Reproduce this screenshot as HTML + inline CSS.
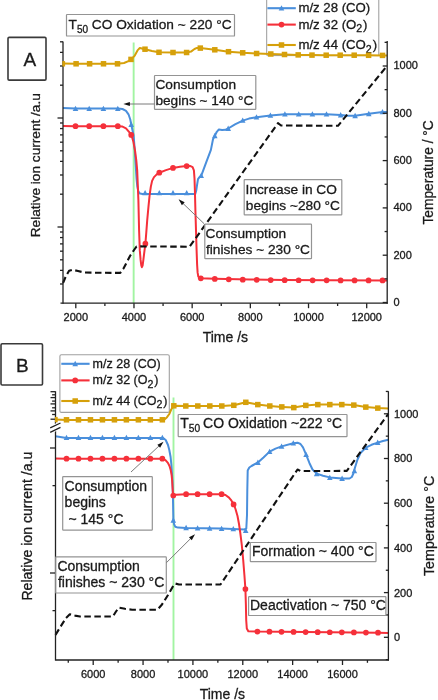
<!DOCTYPE html>
<html><head><meta charset="utf-8"><title>CO oxidation chart</title>
<style>html,body{margin:0;padding:0;background:#fff;width:438px;height:700px;overflow:hidden}svg{display:block;filter:blur(0.4px)}text{font-family:"Liberation Sans",sans-serif}</style>
</head><body>
<svg width="438" height="700" viewBox="0 0 438 700" font-family='Liberation Sans, sans-serif'>
<rect width="438" height="700" fill="#fff"/>
<line x1="133.65" y1="42.5" x2="133.65" y2="303.2" stroke="#a2f4a2" stroke-width="1.9"/>
<rect x="266.7" y="-3" width="112.1" height="58.6" fill="#fff" stroke="#999" stroke-width="1.0" rx="0.6"/>
<line x1="267.4" y1="8.2" x2="295.8" y2="8.2" stroke="#4a8fdc" stroke-width="2.1"/>
<path d="M281.5,5.26 L278.7,10.58 L284.3,10.58 Z" fill="#4a8fdc"/>
<text x="298.4" y="12.3" font-size="13.2" text-anchor="start" fill="#1a1a1a" stroke="#1a1a1a" stroke-width="0.3">m/z 28 (CO)</text>
<line x1="267.4" y1="24.6" x2="295.8" y2="24.6" stroke="#f5303a" stroke-width="2.1"/>
<circle cx="281.5" cy="24.6" r="2.85" fill="#f5303a"/>
<text x="298.4" y="28.7" font-size="13.2" text-anchor="start" fill="#1a1a1a" stroke="#1a1a1a" stroke-width="0.3">m/z 32 (O<tspan font-size="10.6" dy="3.6">2</tspan><tspan dy="-3.6" dx="0.9">)</tspan></text>
<line x1="267.4" y1="45" x2="295.8" y2="45" stroke="#d6a00a" stroke-width="2.1"/>
<rect x="278.75" y="42.25" width="5.5" height="5.5" fill="#d6a00a"/>
<text x="298.4" y="49.1" font-size="13.2" text-anchor="start" fill="#1a1a1a" stroke="#1a1a1a" stroke-width="0.3">m/z 44 (CO<tspan font-size="10.6" dy="3.6">2</tspan><tspan dy="-3.6" dx="0.9">)</tspan></text>
<line x1="173.5" y1="397.5" x2="173.5" y2="660" stroke="#a2f4a2" stroke-width="1.9"/>
<rect x="59.9" y="354.8" width="109.4" height="57.6" fill="#fff" stroke="#a0a0a0" stroke-width="1.1" rx="1.5"/>
<line x1="61.3" y1="363.8" x2="89.6" y2="363.8" stroke="#4a8fdc" stroke-width="2.1"/>
<path d="M75.2,360.86 L72.4,366.18 L78,366.18 Z" fill="#4a8fdc"/>
<text x="92.6" y="367.6" font-size="12.5" text-anchor="start" fill="#1a1a1a" stroke="#1a1a1a" stroke-width="0.3">m/z 28 (CO)</text>
<line x1="61.3" y1="380.4" x2="89.6" y2="380.4" stroke="#f5303a" stroke-width="2.1"/>
<circle cx="75.2" cy="380.4" r="2.85" fill="#f5303a"/>
<text x="92.6" y="384.2" font-size="12.5" text-anchor="start" fill="#1a1a1a" stroke="#1a1a1a" stroke-width="0.3">m/z 32 (O<tspan font-size="10.6" dy="3.6">2</tspan><tspan dy="-3.6" dx="0.9">)</tspan></text>
<line x1="61.3" y1="401" x2="89.6" y2="401" stroke="#d6a00a" stroke-width="2.1"/>
<rect x="72.45" y="398.25" width="5.5" height="5.5" fill="#d6a00a"/>
<text x="92.6" y="404.8" font-size="12.5" text-anchor="start" fill="#1a1a1a" stroke="#1a1a1a" stroke-width="0.3">m/z 44 (CO<tspan font-size="10.6" dy="3.6">2</tspan><tspan dy="-3.6" dx="0.9">)</tspan></text>
<path d="M63,107.9 L75.5,108.6 L117.8,108.6 L122.5,109 L126,110.8 L128.5,114.3 L130.2,119.3 L131.2,124.3 L132.5,130.3 L133.6,135.3 L134.8,150.3 L135.7,165.3 L136.5,178.3 L137.3,186.3 L138.3,191.3 L140,193.6 L142.5,194 L195.2,194.1 L196.2,190.8 L197,185.3 L198,179.1 L199.5,177.1 L201.2,175.9 L206,162.8 L210.9,149.9 L213,139.3 L214.8,135.7 L216.8,131.8 L218.9,129.4 L222.1,129.9 L225.5,129.8 L228.2,128.5 L235,124.3 L242.7,120.6 L249,118.6 L256.5,117.2 L270.4,115.4 L284.9,114.3 L298.7,114.2 L326.5,114.2 L340.7,115 L348,115.7 L355.1,115.7 L362,114.7 L368.8,113.8 L382.5,112.1 L387,111.9" fill="none" stroke="#4a8fdc" stroke-width="2.0" stroke-linejoin="round" stroke-linecap="butt"/>
<path d="M75.5,105.66 L72.7,110.98 L78.3,110.98 Z" fill="#4a8fdc"/>
<path d="M89.2,105.66 L86.4,110.98 L92,110.98 Z" fill="#4a8fdc"/>
<path d="M103.4,105.66 L100.6,110.98 L106.2,110.98 Z" fill="#4a8fdc"/>
<path d="M117.8,105.66 L115,110.98 L120.6,110.98 Z" fill="#4a8fdc"/>
<path d="M131.2,121.56 L128.4,126.88 L134,126.88 Z" fill="#4a8fdc"/>
<path d="M145.1,189.96 L142.3,195.28 L147.9,195.28 Z" fill="#4a8fdc"/>
<path d="M159.3,189.96 L156.5,195.28 L162.1,195.28 Z" fill="#4a8fdc"/>
<path d="M173,189.96 L170.2,195.28 L175.8,195.28 Z" fill="#4a8fdc"/>
<path d="M186.7,189.96 L183.9,195.28 L189.5,195.28 Z" fill="#4a8fdc"/>
<path d="M201.2,172.76 L198.4,178.08 L204,178.08 Z" fill="#4a8fdc"/>
<path d="M214.8,132.86 L212,138.18 L217.6,138.18 Z" fill="#4a8fdc"/>
<path d="M228.2,125.56 L225.4,130.88 L231,130.88 Z" fill="#4a8fdc"/>
<path d="M242.7,117.46 L239.9,122.78 L245.5,122.78 Z" fill="#4a8fdc"/>
<path d="M256.5,114.26 L253.7,119.58 L259.3,119.58 Z" fill="#4a8fdc"/>
<path d="M270.4,112.46 L267.6,117.78 L273.2,117.78 Z" fill="#4a8fdc"/>
<path d="M284.9,111.26 L282.1,116.58 L287.7,116.58 Z" fill="#4a8fdc"/>
<path d="M298.7,111.26 L295.9,116.58 L301.5,116.58 Z" fill="#4a8fdc"/>
<path d="M312.4,111.26 L309.6,116.58 L315.2,116.58 Z" fill="#4a8fdc"/>
<path d="M326.5,111.26 L323.7,116.58 L329.3,116.58 Z" fill="#4a8fdc"/>
<path d="M340.7,112.06 L337.9,117.38 L343.5,117.38 Z" fill="#4a8fdc"/>
<path d="M355.1,112.86 L352.3,118.18 L357.9,118.18 Z" fill="#4a8fdc"/>
<path d="M368.8,110.86 L366,116.18 L371.6,116.18 Z" fill="#4a8fdc"/>
<path d="M382.5,108.96 L379.7,114.28 L385.3,114.28 Z" fill="#4a8fdc"/>
<path d="M55.5,436.3 L66.5,437.9 L78.48,437.9 L90.46,437.9 L102.44,437.9 L114.42,437.9 L126.4,437.9 L138.38,437.9 L150.36,437.9 L162.34,437.9 L163.5,438.3 L165.7,440 L168,445 L169.3,450 L170.6,457 L171.4,465 L172.4,480 L172.9,495 L173.2,510 L173.4,519 L174,524 L175.3,526.8 L178,527.6 L186.1,528 L221.5,528.6 L233.1,529 L244.5,529.4 L246.3,528.5 L247,515 L247.3,490 L247.7,470.5 L249.3,467.5 L251.5,466 L257.9,462.5 L263.5,457.5 L269.6,451.6 L275.5,448.6 L281.6,446.4 L293.3,443.3 L297.5,442.7 L300.5,444 L303,447.4 L306.1,454.7 L309.5,463.2 L312.5,469.5 L316.7,473.6 L323,475.8 L329.8,477.4 L342.1,478.4 L349.5,478.5 L351.8,477 L353.4,473.5 L355,467.5 L357.5,459.5 L360.5,453 L365.7,447.7 L371.5,444.8 L377.7,442.6 L383,441 L388.4,439.8" fill="none" stroke="#4a8fdc" stroke-width="2.0" stroke-linejoin="round" stroke-linecap="butt"/>
<path d="M66.5,434.76 L63.7,440.08 L69.3,440.08 Z" fill="#4a8fdc"/>
<path d="M78.48,434.76 L75.68,440.08 L81.28,440.08 Z" fill="#4a8fdc"/>
<path d="M90.46,434.76 L87.66,440.08 L93.26,440.08 Z" fill="#4a8fdc"/>
<path d="M102.44,434.76 L99.64,440.08 L105.24,440.08 Z" fill="#4a8fdc"/>
<path d="M114.42,434.76 L111.62,440.08 L117.22,440.08 Z" fill="#4a8fdc"/>
<path d="M126.4,434.76 L123.6,440.08 L129.2,440.08 Z" fill="#4a8fdc"/>
<path d="M138.38,434.76 L135.58,440.08 L141.18,440.08 Z" fill="#4a8fdc"/>
<path d="M150.36,434.76 L147.56,440.08 L153.16,440.08 Z" fill="#4a8fdc"/>
<path d="M162.34,434.76 L159.54,440.08 L165.14,440.08 Z" fill="#4a8fdc"/>
<path d="M173.3,517.36 L170.5,522.68 L176.1,522.68 Z" fill="#4a8fdc"/>
<path d="M186.1,524.86 L183.3,530.18 L188.9,530.18 Z" fill="#4a8fdc"/>
<path d="M197.6,525.16 L194.8,530.48 L200.4,530.48 Z" fill="#4a8fdc"/>
<path d="M209.6,525.36 L206.8,530.68 L212.4,530.68 Z" fill="#4a8fdc"/>
<path d="M221.6,525.66 L218.8,530.98 L224.4,530.98 Z" fill="#4a8fdc"/>
<path d="M233.3,525.96 L230.5,531.28 L236.1,531.28 Z" fill="#4a8fdc"/>
<path d="M245.7,527.66 L242.9,532.98 L248.5,532.98 Z" fill="#4a8fdc"/>
<path d="M257.9,459.56 L255.1,464.88 L260.7,464.88 Z" fill="#4a8fdc"/>
<path d="M269.6,448.66 L266.8,453.98 L272.4,453.98 Z" fill="#4a8fdc"/>
<path d="M281.6,443.46 L278.8,448.78 L284.4,448.78 Z" fill="#4a8fdc"/>
<path d="M293.3,440.26 L290.5,445.58 L296.1,445.58 Z" fill="#4a8fdc"/>
<path d="M306.1,451.76 L303.3,457.08 L308.9,457.08 Z" fill="#4a8fdc"/>
<path d="M316.7,470.86 L313.9,476.18 L319.5,476.18 Z" fill="#4a8fdc"/>
<path d="M329.8,474.76 L327,480.08 L332.6,480.08 Z" fill="#4a8fdc"/>
<path d="M342.1,475.56 L339.3,480.88 L344.9,480.88 Z" fill="#4a8fdc"/>
<path d="M354.4,467.96 L351.6,473.28 L357.2,473.28 Z" fill="#4a8fdc"/>
<path d="M365.7,444.76 L362.9,450.08 L368.5,450.08 Z" fill="#4a8fdc"/>
<path d="M377.7,439.56 L374.9,444.88 L380.5,444.88 Z" fill="#4a8fdc"/>
<path d="M63,125.9 L75.5,126.2 L117.8,126.2 L122.5,126.6 L126,128.4 L128.6,131.4 L131.4,134.7 L133.3,141.4 L135,150.4 L136.3,160.4 L137.2,170.4 L137.8,185.4 L138.4,200.4 L139.1,230.4 L139.8,250.4 L140.6,259.9 L141.3,265.4 L141.9,267.2 L142.6,265.7 L143.3,260.4 L144.4,251.4 L145.4,243.7 L146.3,232.4 L147.2,220.4 L148.4,207.4 L149.6,195.4 L150.8,186.9 L152.1,180.9 L154,177.1 L156.5,174.6 L159.3,172.7 L166,170.1 L173,167.9 L180,166.7 L186.7,166.1 L190.5,166.1 L192.6,167.2 L193.9,170.4 L194.5,178.4 L194.9,190.4 L195.4,210.4 L196,230.4 L196.6,250.4 L197.1,264.4 L197.6,272.4 L198.3,276.6 L199.6,278 L200.8,278.3 L214.5,278.8 L250,279.5 L284.5,279.9 L330,280.2 L387,280.5" fill="none" stroke="#f5303a" stroke-width="2.0" stroke-linejoin="round" stroke-linecap="butt"/>
<circle cx="75.5" cy="126.2" r="2.85" fill="#f5303a"/>
<circle cx="89.2" cy="126.2" r="2.85" fill="#f5303a"/>
<circle cx="103.4" cy="126.2" r="2.85" fill="#f5303a"/>
<circle cx="117.8" cy="126.2" r="2.85" fill="#f5303a"/>
<circle cx="131.2" cy="134.9" r="2.85" fill="#f5303a"/>
<circle cx="145.4" cy="243.7" r="2.85" fill="#f5303a"/>
<circle cx="159.3" cy="172.7" r="2.85" fill="#f5303a"/>
<circle cx="173" cy="167.9" r="2.85" fill="#f5303a"/>
<circle cx="186.7" cy="166.1" r="2.85" fill="#f5303a"/>
<circle cx="200.8" cy="278.3" r="2.85" fill="#f5303a"/>
<circle cx="214.78" cy="278.89" r="2.85" fill="#f5303a"/>
<circle cx="228.76" cy="279.32" r="2.85" fill="#f5303a"/>
<circle cx="242.74" cy="279.63" r="2.85" fill="#f5303a"/>
<circle cx="256.72" cy="279.87" r="2.85" fill="#f5303a"/>
<circle cx="270.7" cy="280.03" r="2.85" fill="#f5303a"/>
<circle cx="284.68" cy="280.16" r="2.85" fill="#f5303a"/>
<circle cx="298.66" cy="280.25" r="2.85" fill="#f5303a"/>
<circle cx="312.64" cy="280.32" r="2.85" fill="#f5303a"/>
<circle cx="326.62" cy="280.37" r="2.85" fill="#f5303a"/>
<circle cx="340.6" cy="280.4" r="2.85" fill="#f5303a"/>
<circle cx="354.58" cy="280.43" r="2.85" fill="#f5303a"/>
<circle cx="368.56" cy="280.45" r="2.85" fill="#f5303a"/>
<circle cx="382.54" cy="280.46" r="2.85" fill="#f5303a"/>
<path d="M55.5,458.4 L66.5,458.7 L78.48,458.7 L90.46,458.7 L102.44,458.7 L114.42,458.7 L126.4,458.7 L138.38,458.7 L150.36,458.7 L162.34,458.7 L165.5,460.2 L167.9,462.9 L169.5,466 L170.7,470 L171.6,475 L172.1,480 L172.6,488 L173,494.5 L173.6,495.4 L176,494.7 L186,494.2 L221.5,494.2 L225.5,495 L229,497.6 L231.5,500.7 L233.6,504.2 L235.5,509 L237.5,516 L239,524 L240.3,533 L241.8,545 L243.2,560 L244.4,575 L245.4,589 L245.9,605 L246.2,620 L246.8,628.5 L248.3,631.3 L257.4,631.6 L378,632.7 L388.4,632.9" fill="none" stroke="#f5303a" stroke-width="2.0" stroke-linejoin="round" stroke-linecap="butt"/>
<circle cx="66.5" cy="458.7" r="2.85" fill="#f5303a"/>
<circle cx="78.48" cy="458.7" r="2.85" fill="#f5303a"/>
<circle cx="90.46" cy="458.7" r="2.85" fill="#f5303a"/>
<circle cx="102.44" cy="458.7" r="2.85" fill="#f5303a"/>
<circle cx="114.42" cy="458.7" r="2.85" fill="#f5303a"/>
<circle cx="126.4" cy="458.7" r="2.85" fill="#f5303a"/>
<circle cx="138.38" cy="458.7" r="2.85" fill="#f5303a"/>
<circle cx="150.36" cy="458.7" r="2.85" fill="#f5303a"/>
<circle cx="162.34" cy="458.7" r="2.85" fill="#f5303a"/>
<circle cx="173.3" cy="495.5" r="2.85" fill="#f5303a"/>
<circle cx="186.1" cy="494.2" r="2.85" fill="#f5303a"/>
<circle cx="197.6" cy="494.2" r="2.85" fill="#f5303a"/>
<circle cx="209.6" cy="494.2" r="2.85" fill="#f5303a"/>
<circle cx="221.6" cy="494.2" r="2.85" fill="#f5303a"/>
<circle cx="233.6" cy="504.4" r="2.85" fill="#f5303a"/>
<circle cx="245.4" cy="589" r="2.85" fill="#f5303a"/>
<circle cx="257.4" cy="631.6" r="2.85" fill="#f5303a"/>
<circle cx="269.46" cy="631.71" r="2.85" fill="#f5303a"/>
<circle cx="281.52" cy="631.82" r="2.85" fill="#f5303a"/>
<circle cx="293.58" cy="631.93" r="2.85" fill="#f5303a"/>
<circle cx="305.64" cy="632.03" r="2.85" fill="#f5303a"/>
<circle cx="317.7" cy="632.14" r="2.85" fill="#f5303a"/>
<circle cx="329.76" cy="632.25" r="2.85" fill="#f5303a"/>
<circle cx="341.82" cy="632.36" r="2.85" fill="#f5303a"/>
<circle cx="353.88" cy="632.47" r="2.85" fill="#f5303a"/>
<circle cx="365.94" cy="632.58" r="2.85" fill="#f5303a"/>
<circle cx="378" cy="632.69" r="2.85" fill="#f5303a"/>
<path d="M63,63.4 L76.1,63.8 L117.5,63.8 L124,63 L129,60.9 L131,59.6 L134.5,55.9 L137.5,50.4 L139.8,48 L145,49.2 L152,51 L159,52.3 L173,52.5 L186.6,52.5 L191,51.6 L194.5,49 L197,47.9 L200.3,48 L214.8,49.8 L228.5,51.7 L242.7,52.8 L256.6,53.5 L270.8,54 L284.5,54.5 L298,54.9 L311.7,55.1 L326.5,55.2 L340.2,55.2 L354,55.2 L368.8,55.3 L382.5,55.4 L387,55.4" fill="none" stroke="#d6a00a" stroke-width="2.0" stroke-linejoin="round" stroke-linecap="butt"/>
<rect x="73.35" y="61.05" width="5.5" height="5.5" fill="#d6a00a"/>
<rect x="86.85" y="61.05" width="5.5" height="5.5" fill="#d6a00a"/>
<rect x="100.75" y="61.05" width="5.5" height="5.5" fill="#d6a00a"/>
<rect x="114.75" y="61.05" width="5.5" height="5.5" fill="#d6a00a"/>
<rect x="128.25" y="56.65" width="5.5" height="5.5" fill="#d6a00a"/>
<rect x="142.25" y="46.45" width="5.5" height="5.5" fill="#d6a00a"/>
<rect x="156.25" y="49.55" width="5.5" height="5.5" fill="#d6a00a"/>
<rect x="170.25" y="49.75" width="5.5" height="5.5" fill="#d6a00a"/>
<rect x="183.85" y="49.75" width="5.5" height="5.5" fill="#d6a00a"/>
<rect x="197.55" y="45.35" width="5.5" height="5.5" fill="#d6a00a"/>
<rect x="212.05" y="47.05" width="5.5" height="5.5" fill="#d6a00a"/>
<rect x="225.75" y="48.95" width="5.5" height="5.5" fill="#d6a00a"/>
<rect x="239.95" y="50.05" width="5.5" height="5.5" fill="#d6a00a"/>
<rect x="253.85" y="50.75" width="5.5" height="5.5" fill="#d6a00a"/>
<rect x="268.05" y="51.25" width="5.5" height="5.5" fill="#d6a00a"/>
<rect x="281.75" y="51.75" width="5.5" height="5.5" fill="#d6a00a"/>
<rect x="295.45" y="52.15" width="5.5" height="5.5" fill="#d6a00a"/>
<rect x="309.25" y="52.35" width="5.5" height="5.5" fill="#d6a00a"/>
<rect x="323.45" y="52.45" width="5.5" height="5.5" fill="#d6a00a"/>
<rect x="337.45" y="52.45" width="5.5" height="5.5" fill="#d6a00a"/>
<rect x="351.45" y="52.45" width="5.5" height="5.5" fill="#d6a00a"/>
<rect x="365.85" y="52.55" width="5.5" height="5.5" fill="#d6a00a"/>
<rect x="379.75" y="52.65" width="5.5" height="5.5" fill="#d6a00a"/>
<path d="M55.5,419.6 L66.5,419.9 L78.48,419.9 L90.46,419.9 L102.44,419.9 L114.42,419.9 L126.4,419.9 L138.38,419.9 L150.36,419.9 L162.34,419.9 L164.5,419.4 L167,417.2 L169.3,414 L171.2,409.5 L173.4,406.3 L174.5,405.8 L185.8,406 L197.8,406 L209.8,406 L221.8,406 L233.8,405.3 L245.8,402.3 L257.8,404.6 L269.8,406 L281.8,406.9 L293.8,407.6 L305.8,405.4 L317.8,404.6 L329.8,404.6 L341.8,404.6 L353.8,405.1 L365.8,407.1 L377.8,408.1 L388.4,408.5" fill="none" stroke="#d6a00a" stroke-width="2.0" stroke-linejoin="round" stroke-linecap="butt"/>
<rect x="63.75" y="417.05" width="5.5" height="5.5" fill="#d6a00a"/>
<rect x="75.73" y="417.05" width="5.5" height="5.5" fill="#d6a00a"/>
<rect x="87.71" y="417.05" width="5.5" height="5.5" fill="#d6a00a"/>
<rect x="99.69" y="417.05" width="5.5" height="5.5" fill="#d6a00a"/>
<rect x="111.67" y="417.05" width="5.5" height="5.5" fill="#d6a00a"/>
<rect x="123.65" y="417.05" width="5.5" height="5.5" fill="#d6a00a"/>
<rect x="135.63" y="417.05" width="5.5" height="5.5" fill="#d6a00a"/>
<rect x="147.61" y="417.05" width="5.5" height="5.5" fill="#d6a00a"/>
<rect x="159.59" y="417.05" width="5.5" height="5.5" fill="#d6a00a"/>
<rect x="171.05" y="403.05" width="5.5" height="5.5" fill="#d6a00a"/>
<rect x="183.05" y="403.25" width="5.5" height="5.5" fill="#d6a00a"/>
<rect x="195.05" y="403.25" width="5.5" height="5.5" fill="#d6a00a"/>
<rect x="207.05" y="403.25" width="5.5" height="5.5" fill="#d6a00a"/>
<rect x="219.05" y="403.25" width="5.5" height="5.5" fill="#d6a00a"/>
<rect x="231.05" y="402.55" width="5.5" height="5.5" fill="#d6a00a"/>
<rect x="243.05" y="399.55" width="5.5" height="5.5" fill="#d6a00a"/>
<rect x="255.05" y="401.85" width="5.5" height="5.5" fill="#d6a00a"/>
<rect x="267.05" y="403.25" width="5.5" height="5.5" fill="#d6a00a"/>
<rect x="279.05" y="404.15" width="5.5" height="5.5" fill="#d6a00a"/>
<rect x="291.05" y="404.85" width="5.5" height="5.5" fill="#d6a00a"/>
<rect x="303.05" y="402.65" width="5.5" height="5.5" fill="#d6a00a"/>
<rect x="315.05" y="401.85" width="5.5" height="5.5" fill="#d6a00a"/>
<rect x="327.05" y="401.85" width="5.5" height="5.5" fill="#d6a00a"/>
<rect x="339.05" y="401.85" width="5.5" height="5.5" fill="#d6a00a"/>
<rect x="351.05" y="402.35" width="5.5" height="5.5" fill="#d6a00a"/>
<rect x="363.05" y="404.35" width="5.5" height="5.5" fill="#d6a00a"/>
<rect x="375.05" y="405.35" width="5.5" height="5.5" fill="#d6a00a"/>
<path d="M63,283 L66,276 L69.1,270.8 L72.8,269.8 L78,271 L83.7,272.4 L100,272.8 L120.3,272.9 L123.5,268.5 L130,256 L134,250 L136.5,246.6 L140,246.4 L189.6,246.7 L278,123.2 L281,125.5 L338,125.8 L387,66" fill="none" stroke="#111" stroke-width="2.1" stroke-linejoin="round" stroke-linecap="butt" stroke-dasharray="6.5 3.5"/>
<path d="M55.5,634.9 L60,627.5 L66,618 L69.8,614.3 L75,615.6 L80,616.5 L112.9,616.5 L116,611.5 L118.8,607.6 L125,608.8 L132.2,609.7 L157.4,609.7 L162,604.5 L168,595 L173.5,585.5 L175.5,583.6 L179,584.5 L220.5,584.5 L297.5,469.5 L300.5,471 L346.8,470.9 L388.4,413.8" fill="none" stroke="#111" stroke-width="2.1" stroke-linejoin="round" stroke-linecap="butt" stroke-dasharray="6.5 3.5"/>
<line x1="63" y1="41.5" x2="63" y2="303.8" stroke="#222" stroke-width="1.3"/>
<line x1="60.5" y1="303.2" x2="387.8" y2="303.2" stroke="#222" stroke-width="1.3"/>
<line x1="387.2" y1="41" x2="387.2" y2="303.8" stroke="#222" stroke-width="1.3"/>
<line x1="60" y1="41.81" x2="63" y2="41.81" stroke="#222" stroke-width="1.3"/>
<line x1="60" y1="52.38" x2="63" y2="52.38" stroke="#222" stroke-width="1.3"/>
<line x1="60" y1="65.99" x2="63" y2="65.99" stroke="#222" stroke-width="1.3"/>
<line x1="60" y1="85.19" x2="63" y2="85.19" stroke="#222" stroke-width="1.3"/>
<line x1="60" y1="122.99" x2="63" y2="122.99" stroke="#222" stroke-width="1.3"/>
<line x1="60" y1="128.56" x2="63" y2="128.56" stroke="#222" stroke-width="1.3"/>
<line x1="60" y1="134.88" x2="63" y2="134.88" stroke="#222" stroke-width="1.3"/>
<line x1="60" y1="142.18" x2="63" y2="142.18" stroke="#222" stroke-width="1.3"/>
<line x1="60" y1="150.81" x2="63" y2="150.81" stroke="#222" stroke-width="1.3"/>
<line x1="60" y1="161.38" x2="63" y2="161.38" stroke="#222" stroke-width="1.3"/>
<line x1="60" y1="174.99" x2="63" y2="174.99" stroke="#222" stroke-width="1.3"/>
<line x1="60" y1="194.19" x2="63" y2="194.19" stroke="#222" stroke-width="1.3"/>
<line x1="60" y1="231.99" x2="63" y2="231.99" stroke="#222" stroke-width="1.3"/>
<line x1="60" y1="237.56" x2="63" y2="237.56" stroke="#222" stroke-width="1.3"/>
<line x1="60" y1="243.88" x2="63" y2="243.88" stroke="#222" stroke-width="1.3"/>
<line x1="60" y1="251.18" x2="63" y2="251.18" stroke="#222" stroke-width="1.3"/>
<line x1="60" y1="259.81" x2="63" y2="259.81" stroke="#222" stroke-width="1.3"/>
<line x1="60" y1="270.38" x2="63" y2="270.38" stroke="#222" stroke-width="1.3"/>
<line x1="60" y1="283.99" x2="63" y2="283.99" stroke="#222" stroke-width="1.3"/>
<line x1="57.5" y1="118" x2="63" y2="118" stroke="#222" stroke-width="1.3"/>
<line x1="57.5" y1="227" x2="63" y2="227" stroke="#222" stroke-width="1.3"/>
<line x1="75.8" y1="303.2" x2="75.8" y2="308.2" stroke="#222" stroke-width="1.3"/>
<line x1="104.89" y1="303.2" x2="104.89" y2="306" stroke="#222" stroke-width="1.3"/>
<line x1="133.98" y1="303.2" x2="133.98" y2="308.2" stroke="#222" stroke-width="1.3"/>
<line x1="163.07" y1="303.2" x2="163.07" y2="306" stroke="#222" stroke-width="1.3"/>
<line x1="192.16" y1="303.2" x2="192.16" y2="308.2" stroke="#222" stroke-width="1.3"/>
<line x1="221.25" y1="303.2" x2="221.25" y2="306" stroke="#222" stroke-width="1.3"/>
<line x1="250.34" y1="303.2" x2="250.34" y2="308.2" stroke="#222" stroke-width="1.3"/>
<line x1="279.43" y1="303.2" x2="279.43" y2="306" stroke="#222" stroke-width="1.3"/>
<line x1="308.52" y1="303.2" x2="308.52" y2="308.2" stroke="#222" stroke-width="1.3"/>
<line x1="337.61" y1="303.2" x2="337.61" y2="306" stroke="#222" stroke-width="1.3"/>
<line x1="366.7" y1="303.2" x2="366.7" y2="308.2" stroke="#222" stroke-width="1.3"/>
<text x="75.8" y="320.6" font-size="11" text-anchor="middle" fill="#1a1a1a" stroke="#1a1a1a" stroke-width="0.3">2000</text>
<text x="133.98" y="320.6" font-size="11" text-anchor="middle" fill="#1a1a1a" stroke="#1a1a1a" stroke-width="0.3">4000</text>
<text x="192.16" y="320.6" font-size="11" text-anchor="middle" fill="#1a1a1a" stroke="#1a1a1a" stroke-width="0.3">6000</text>
<text x="250.34" y="320.6" font-size="11" text-anchor="middle" fill="#1a1a1a" stroke="#1a1a1a" stroke-width="0.3">8000</text>
<text x="308.52" y="320.6" font-size="11" text-anchor="middle" fill="#1a1a1a" stroke="#1a1a1a" stroke-width="0.3">10000</text>
<text x="366.7" y="320.6" font-size="11" text-anchor="middle" fill="#1a1a1a" stroke="#1a1a1a" stroke-width="0.3">12000</text>
<line x1="382.7" y1="302.5" x2="387.2" y2="302.5" stroke="#222" stroke-width="1.3"/>
<line x1="384.6" y1="278.85" x2="387.2" y2="278.85" stroke="#222" stroke-width="1.3"/>
<line x1="382.7" y1="255.2" x2="387.2" y2="255.2" stroke="#222" stroke-width="1.3"/>
<line x1="384.6" y1="231.55" x2="387.2" y2="231.55" stroke="#222" stroke-width="1.3"/>
<line x1="382.7" y1="207.9" x2="387.2" y2="207.9" stroke="#222" stroke-width="1.3"/>
<line x1="384.6" y1="184.25" x2="387.2" y2="184.25" stroke="#222" stroke-width="1.3"/>
<line x1="382.7" y1="160.6" x2="387.2" y2="160.6" stroke="#222" stroke-width="1.3"/>
<line x1="384.6" y1="136.95" x2="387.2" y2="136.95" stroke="#222" stroke-width="1.3"/>
<line x1="382.7" y1="113.3" x2="387.2" y2="113.3" stroke="#222" stroke-width="1.3"/>
<line x1="384.6" y1="89.65" x2="387.2" y2="89.65" stroke="#222" stroke-width="1.3"/>
<line x1="382.7" y1="66" x2="387.2" y2="66" stroke="#222" stroke-width="1.3"/>
<line x1="384.6" y1="42.35" x2="387.2" y2="42.35" stroke="#222" stroke-width="1.3"/>
<text x="393.5" y="305.9" font-size="11" text-anchor="start" fill="#1a1a1a" stroke="#1a1a1a" stroke-width="0.3">0</text>
<text x="393.5" y="258.6" font-size="11" text-anchor="start" fill="#1a1a1a" stroke="#1a1a1a" stroke-width="0.3">200</text>
<text x="393.5" y="211.3" font-size="11" text-anchor="start" fill="#1a1a1a" stroke="#1a1a1a" stroke-width="0.3">400</text>
<text x="393.5" y="164" font-size="11" text-anchor="start" fill="#1a1a1a" stroke="#1a1a1a" stroke-width="0.3">600</text>
<text x="393.5" y="116.7" font-size="11" text-anchor="start" fill="#1a1a1a" stroke="#1a1a1a" stroke-width="0.3">800</text>
<text x="393.5" y="69.4" font-size="11" text-anchor="start" fill="#1a1a1a" stroke="#1a1a1a" stroke-width="0.3">1000</text>
<text x="0" y="0" font-size="14" text-anchor="middle" fill="#1a1a1a" stroke="#1a1a1a" stroke-width="0.3" transform="translate(225.4,341.6)">Time /s</text>
<text x="0" y="0" font-size="13.65" text-anchor="middle" fill="#1a1a1a" stroke="#1a1a1a" stroke-width="0.3" transform="translate(39.6,165.2) rotate(-90)">Relative ion current /a.u</text>
<text x="0" y="0" font-size="13.8" text-anchor="middle" fill="#1a1a1a" stroke="#1a1a1a" stroke-width="0.3" transform="translate(433.2,172.4) rotate(-90)">Temperature / &#176;C</text>
<rect x="8" y="37.4" width="38" height="42.7" fill="#fff" stroke="#3a3a3a" stroke-width="1.6" rx="1.2"/>
<text x="29.8" y="66.2" font-size="19" text-anchor="middle" fill="#1a1a1a" stroke="#1a1a1a" stroke-width="0.3">A</text>
<rect x="66.5" y="14.5" width="168" height="21.5" fill="#fff" stroke="#949494" stroke-width="1.2" rx="0.6"/>
<text x="68.5" y="29.4" font-size="13.7" text-anchor="start" fill="#1a1a1a" stroke="#1a1a1a" stroke-width="0.3">T<tspan font-size="10" dy="4.0">50</tspan><tspan dy="-4.0"> CO Oxidation ~ 220 &#176;C</tspan></text>
<rect x="154.5" y="75.5" width="101.3" height="33.9" fill="#fff" stroke="#949494" stroke-width="1.2" rx="0.6"/>
<text x="155.4" y="89.1" font-size="13.7" text-anchor="start" fill="#1a1a1a" stroke="#1a1a1a" stroke-width="0.3">Consumption</text>
<text x="155.4" y="104.6" font-size="13.7" text-anchor="start" fill="#1a1a1a" stroke="#1a1a1a" stroke-width="0.3">begins ~ 140 &#176;C</text>
<line x1="154.5" y1="104" x2="126.4" y2="104" stroke="#7a7a7a" stroke-width="1.0"/>
<path d="M123.4,104 L129.9,102 L129.9,106 Z" fill="#111"/>
<rect x="244.2" y="179.7" width="97.6" height="35.1" fill="#fff" stroke="#949494" stroke-width="1.2" rx="0.6"/>
<text x="245.6" y="193.9" font-size="13.7" text-anchor="start" fill="#1a1a1a" stroke="#1a1a1a" stroke-width="0.3">Increase in CO</text>
<text x="245.8" y="210.3" font-size="13.7" text-anchor="start" fill="#1a1a1a" stroke="#1a1a1a" stroke-width="0.3">begins ~280 &#176;C</text>
<rect x="204.8" y="224.2" width="106.7" height="34.4" fill="#fff" stroke="#949494" stroke-width="1.2" rx="0.6"/>
<text x="205.5" y="237.9" font-size="13.7" text-anchor="start" fill="#1a1a1a" stroke="#1a1a1a" stroke-width="0.3">Consumption</text>
<text x="206" y="254.1" font-size="13.7" text-anchor="start" fill="#1a1a1a" stroke="#1a1a1a" stroke-width="0.3">finishes ~ 230 &#176;C</text>
<line x1="204" y1="223.6" x2="180.76" y2="201.28" stroke="#7a7a7a" stroke-width="1.0"/>
<path d="M178.6,199.2 L184.67,202.26 L181.9,205.15 Z" fill="#111"/>
<line x1="55.5" y1="391.3" x2="55.5" y2="424.8" stroke="#222" stroke-width="1.3"/>
<line x1="55.5" y1="430.5" x2="55.5" y2="660.6" stroke="#222" stroke-width="1.3"/>
<line x1="55.5" y1="660" x2="389" y2="660" stroke="#222" stroke-width="1.3"/>
<line x1="388.4" y1="391.2" x2="388.4" y2="660.6" stroke="#222" stroke-width="1.3"/>
<path d="M49.5,428.2 L61,422.6 M49.5,432.6 L61,427.0" stroke="#fff" stroke-width="3.2"/>
<path d="M50.2,427.9 L60.5,423.0 M50.2,432.3 L60.5,427.4" stroke="#222" stroke-width="1.3"/>
<line x1="50.5" y1="391.7" x2="55.5" y2="391.7" stroke="#222" stroke-width="1.3"/>
<line x1="52.1" y1="394.8" x2="55.5" y2="394.8" stroke="#222" stroke-width="1.3"/>
<line x1="50.5" y1="397.6" x2="55.5" y2="397.6" stroke="#222" stroke-width="1.3"/>
<line x1="52.1" y1="401.1" x2="55.5" y2="401.1" stroke="#222" stroke-width="1.3"/>
<line x1="50.5" y1="403.9" x2="55.5" y2="403.9" stroke="#222" stroke-width="1.3"/>
<line x1="52.1" y1="407.8" x2="55.5" y2="407.8" stroke="#222" stroke-width="1.3"/>
<line x1="50.5" y1="410.9" x2="55.5" y2="410.9" stroke="#222" stroke-width="1.3"/>
<line x1="52.1" y1="414.5" x2="55.5" y2="414.5" stroke="#222" stroke-width="1.3"/>
<line x1="50.5" y1="419.2" x2="55.5" y2="419.2" stroke="#222" stroke-width="1.3"/>
<line x1="50" y1="448" x2="55.5" y2="448" stroke="#222" stroke-width="1.3"/>
<line x1="50" y1="573" x2="55.5" y2="573" stroke="#222" stroke-width="1.3"/>
<line x1="52.5" y1="485.63" x2="55.5" y2="485.63" stroke="#222" stroke-width="1.3"/>
<line x1="52.5" y1="610.63" x2="55.5" y2="610.63" stroke="#222" stroke-width="1.3"/>
<line x1="68.27" y1="660" x2="68.27" y2="662.8" stroke="#222" stroke-width="1.3"/>
<line x1="93.2" y1="660" x2="93.2" y2="665" stroke="#222" stroke-width="1.3"/>
<line x1="118.13" y1="660" x2="118.13" y2="662.8" stroke="#222" stroke-width="1.3"/>
<line x1="143.06" y1="660" x2="143.06" y2="665" stroke="#222" stroke-width="1.3"/>
<line x1="167.99" y1="660" x2="167.99" y2="662.8" stroke="#222" stroke-width="1.3"/>
<line x1="192.92" y1="660" x2="192.92" y2="665" stroke="#222" stroke-width="1.3"/>
<line x1="217.85" y1="660" x2="217.85" y2="662.8" stroke="#222" stroke-width="1.3"/>
<line x1="242.78" y1="660" x2="242.78" y2="665" stroke="#222" stroke-width="1.3"/>
<line x1="267.71" y1="660" x2="267.71" y2="662.8" stroke="#222" stroke-width="1.3"/>
<line x1="292.64" y1="660" x2="292.64" y2="665" stroke="#222" stroke-width="1.3"/>
<line x1="317.57" y1="660" x2="317.57" y2="662.8" stroke="#222" stroke-width="1.3"/>
<line x1="342.5" y1="660" x2="342.5" y2="665" stroke="#222" stroke-width="1.3"/>
<line x1="367.43" y1="660" x2="367.43" y2="662.8" stroke="#222" stroke-width="1.3"/>
<text x="93.2" y="677.8" font-size="11" text-anchor="middle" fill="#1a1a1a" stroke="#1a1a1a" stroke-width="0.3">6000</text>
<text x="143.06" y="677.8" font-size="11" text-anchor="middle" fill="#1a1a1a" stroke="#1a1a1a" stroke-width="0.3">8000</text>
<text x="192.92" y="677.8" font-size="11" text-anchor="middle" fill="#1a1a1a" stroke="#1a1a1a" stroke-width="0.3">10000</text>
<text x="242.78" y="677.8" font-size="11" text-anchor="middle" fill="#1a1a1a" stroke="#1a1a1a" stroke-width="0.3">12000</text>
<text x="292.64" y="677.8" font-size="11" text-anchor="middle" fill="#1a1a1a" stroke="#1a1a1a" stroke-width="0.3">14000</text>
<text x="342.5" y="677.8" font-size="11" text-anchor="middle" fill="#1a1a1a" stroke="#1a1a1a" stroke-width="0.3">16000</text>
<line x1="385.8" y1="659.65" x2="388.4" y2="659.65" stroke="#222" stroke-width="1.3"/>
<line x1="383.9" y1="637.3" x2="388.4" y2="637.3" stroke="#222" stroke-width="1.3"/>
<line x1="385.8" y1="614.95" x2="388.4" y2="614.95" stroke="#222" stroke-width="1.3"/>
<line x1="383.9" y1="592.6" x2="388.4" y2="592.6" stroke="#222" stroke-width="1.3"/>
<line x1="385.8" y1="570.25" x2="388.4" y2="570.25" stroke="#222" stroke-width="1.3"/>
<line x1="383.9" y1="547.9" x2="388.4" y2="547.9" stroke="#222" stroke-width="1.3"/>
<line x1="385.8" y1="525.55" x2="388.4" y2="525.55" stroke="#222" stroke-width="1.3"/>
<line x1="383.9" y1="503.2" x2="388.4" y2="503.2" stroke="#222" stroke-width="1.3"/>
<line x1="385.8" y1="480.85" x2="388.4" y2="480.85" stroke="#222" stroke-width="1.3"/>
<line x1="383.9" y1="458.5" x2="388.4" y2="458.5" stroke="#222" stroke-width="1.3"/>
<line x1="385.8" y1="436.15" x2="388.4" y2="436.15" stroke="#222" stroke-width="1.3"/>
<line x1="383.9" y1="413.8" x2="388.4" y2="413.8" stroke="#222" stroke-width="1.3"/>
<line x1="385.8" y1="391.45" x2="388.4" y2="391.45" stroke="#222" stroke-width="1.3"/>
<text x="394" y="641.2" font-size="11" text-anchor="start" fill="#1a1a1a" stroke="#1a1a1a" stroke-width="0.3">0</text>
<text x="394" y="596.5" font-size="11" text-anchor="start" fill="#1a1a1a" stroke="#1a1a1a" stroke-width="0.3">200</text>
<text x="394" y="551.8" font-size="11" text-anchor="start" fill="#1a1a1a" stroke="#1a1a1a" stroke-width="0.3">400</text>
<text x="394" y="507.1" font-size="11" text-anchor="start" fill="#1a1a1a" stroke="#1a1a1a" stroke-width="0.3">600</text>
<text x="394" y="462.4" font-size="11" text-anchor="start" fill="#1a1a1a" stroke="#1a1a1a" stroke-width="0.3">800</text>
<text x="394" y="417.7" font-size="11" text-anchor="start" fill="#1a1a1a" stroke="#1a1a1a" stroke-width="0.3">1000</text>
<text x="0" y="0" font-size="14" text-anchor="middle" fill="#1a1a1a" stroke="#1a1a1a" stroke-width="0.3" transform="translate(222.4,698.5)">Time /s</text>
<text x="0" y="0" font-size="14.1" text-anchor="middle" fill="#1a1a1a" stroke="#1a1a1a" stroke-width="0.3" transform="translate(32.1,526.2) rotate(-90)">Relative ion current /a.u</text>
<text x="0" y="0" font-size="14.3" text-anchor="middle" fill="#1a1a1a" stroke="#1a1a1a" stroke-width="0.3" transform="translate(434.3,525.9) rotate(-90)">Temperature &#176;C</text>
<rect x="1" y="343.7" width="41.5" height="41.3" fill="#fff" stroke="#3a3a3a" stroke-width="1.6" rx="1.2"/>
<text x="22.3" y="372" font-size="19" text-anchor="middle" fill="#1a1a1a" stroke="#1a1a1a" stroke-width="0.3">B</text>
<rect x="178.2" y="414.5" width="168.8" height="22.2" fill="#fff" stroke="#949494" stroke-width="1.2" rx="0.6"/>
<text x="180.3" y="428.2" font-size="14" text-anchor="start" fill="#1a1a1a" stroke="#1a1a1a" stroke-width="0.3" xml:space="preserve">T<tspan font-size="10.2" dy="4.2">50 </tspan><tspan dy="-4.2">CO Oxidation ~222 &#176;C</tspan></text>
<rect x="62.7" y="476.7" width="89.6" height="53.5" fill="#fff" stroke="#949494" stroke-width="1.2" rx="0.6"/>
<text x="64.6" y="491.1" font-size="14" text-anchor="start" fill="#1a1a1a" stroke="#1a1a1a" stroke-width="0.3">Consumption</text>
<text x="64.6" y="507.2" font-size="14" text-anchor="start" fill="#1a1a1a" stroke="#1a1a1a" stroke-width="0.3">begins</text>
<text x="64.6" y="524.4" font-size="14" text-anchor="start" fill="#1a1a1a" stroke="#1a1a1a" stroke-width="0.3" xml:space="preserve"> ~ 145 &#176;C</text>
<line x1="131" y1="472" x2="161.3" y2="443.84" stroke="#7a7a7a" stroke-width="1.0"/>
<path d="M163.5,441.8 L160.1,447.69 L157.38,444.76 Z" fill="#111"/>
<rect x="55.8" y="556.9" width="110.5" height="36.1" fill="#fff" stroke="#949494" stroke-width="1.2" rx="0.6"/>
<text x="57.4" y="570.6" font-size="14" text-anchor="start" fill="#1a1a1a" stroke="#1a1a1a" stroke-width="0.3">Consumption</text>
<text x="57.9" y="587.4" font-size="14" text-anchor="start" fill="#1a1a1a" stroke="#1a1a1a" stroke-width="0.3">finishes ~ 230 &#176;C</text>
<line x1="166.3" y1="562.8" x2="192.87" y2="536.32" stroke="#7a7a7a" stroke-width="1.0"/>
<path d="M195,534.2 L191.81,540.2 L188.98,537.37 Z" fill="#111"/>
<rect x="250.3" y="542.5" width="125.7" height="19.2" fill="#fff" stroke="#949494" stroke-width="1.2" rx="0.6"/>
<text x="251.9" y="556.2" font-size="14" text-anchor="start" fill="#1a1a1a" stroke="#1a1a1a" stroke-width="0.3">Formation ~ 400 &#176;C</text>
<rect x="248.6" y="596.6" width="137.3" height="18.9" fill="#fff" stroke="#949494" stroke-width="1.2" rx="0.6"/>
<text x="250" y="609.6" font-size="14" text-anchor="start" fill="#1a1a1a" stroke="#1a1a1a" stroke-width="0.3">Deactivation ~ 750 &#176;C</text>
<rect x="62.3" y="61.1" width="2.8" height="5.4" fill="#d6a00a"/>
<rect x="54.9" y="416.9" width="2.8" height="5.4" fill="#d6a00a"/>
</svg>
</body></html>
